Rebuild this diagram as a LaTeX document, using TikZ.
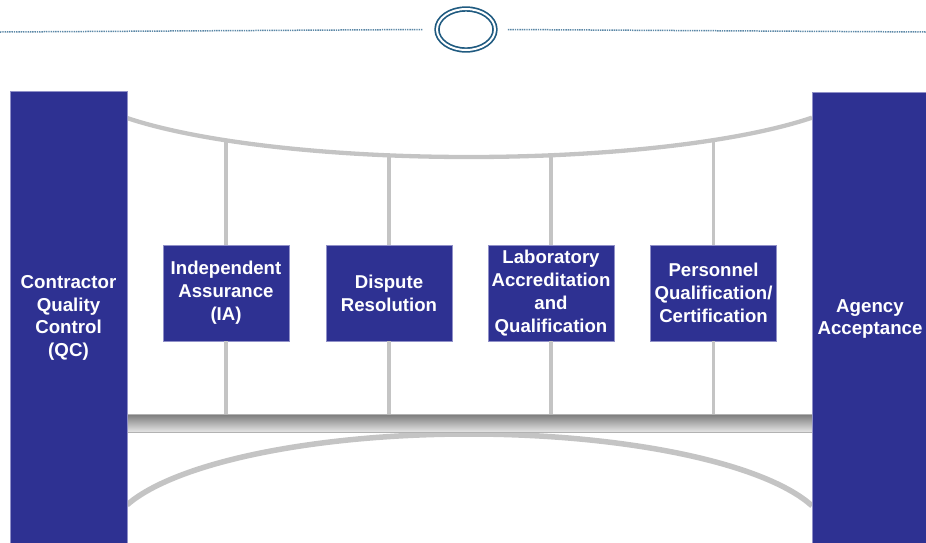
\documentclass[tikz,border=0pt]{standalone}
\usepackage{fontspec}
\setmainfont{Liberation Sans}
\usetikzlibrary{shapes.geometric}
\definecolor{qablue}{HTML}{2E3192}
\definecolor{qaedge}{HTML}{9090C8}
\definecolor{railgray}{HTML}{C4C4C4}
\definecolor{rulecol}{HTML}{5B87A6}
\definecolor{ringcol}{HTML}{1F5A80}
\tikzset{
  pillar/.style={fill=qablue,draw=qaedge,line width=0.8pt,minimum height=454pt,inner sep=0pt,
    text=white,font=\fontsize{18.7}{22.5}\selectfont\bfseries,align=center},
  unit/.style={fill=qablue,draw=qaedge,line width=0.8pt,minimum width=126pt,minimum height=96pt,inner sep=0pt,
    text=white,font=\fontsize{18.6}{23}\selectfont\bfseries,align=center},
  rail/.style={draw=railgray,line width=3.5pt},
  rule/.style={rulecol,line width=1.5pt,dash pattern=on 1.4pt off 0.9pt}
}
\begin{document}
\begin{tikzpicture}[x=1pt,y=-1pt]
  \useasboundingbox (0,0) rectangle (926,542);
  \clip (0,0) rectangle (926,542);
  % header ring and dotted rules
  \node (ring) [ellipse,draw=ringcol,line width=1.7pt,double=white,double distance=2pt,
    minimum width=58pt,minimum height=41pt] at (466,29.5) {};
  \coordinate (rl) at (0,32);
  \coordinate (rr) at (926,32);
  \draw[rule] (rl) -- ([xshift=-13pt]ring.west);
  \draw[rule] ([xshift=12pt]ring.east) -- (rr);
  % upper and lower arcs
  \draw[railgray,line width=4.3pt,smooth,samples=100,domain=127:812] plot(\x,{76+81*sqrt(1-((\x-469)/400)^2)});
  \draw[railgray,line width=5.5pt,smooth,samples=100,domain=127:812] plot(\x,{537-103*sqrt(1-((\x-469)/360)^2)});
  % cross beam
  \node (bar) [minimum width=685pt,minimum height=18pt,inner sep=0pt,top color=black!52,bottom color=black!10,
    draw=black!30,line width=0.6pt] at (469.5,423) {};
  % side pillars
  \node (qc) [pillar,minimum width=117pt] at (68.5,318) {Contractor\\Quality\\Control\\(QC)};
  \node (agency) [pillar,minimum width=116pt] at (870,319) {Agency\\Acceptance};
  % middle units
  \node (ia) [unit] at (226,293) {Independent\\Assurance\\(IA)};
  \node (dr) [unit] at (389,293) {Dispute\\Resolution};
  \node (lab) [unit] at (551,293) {Laboratory\\Accreditation\\and\\Qualification};
  \node (pq) [unit] at (713.5,293) {Personnel\\Qualification/\\Certification};
  \foreach \n/\xx in {ia/226,dr/389,lab/551,pq/713.5}{
    \coordinate (\n-top) at (\xx,{76+81*sqrt(1-((\xx-469)/400)^2)});
    \draw[rail] (\n-top) -- (\n.north);
    \draw[rail] (\n.south) -- (\n.south |- bar.north);
  }
\end{tikzpicture}
\end{document}
